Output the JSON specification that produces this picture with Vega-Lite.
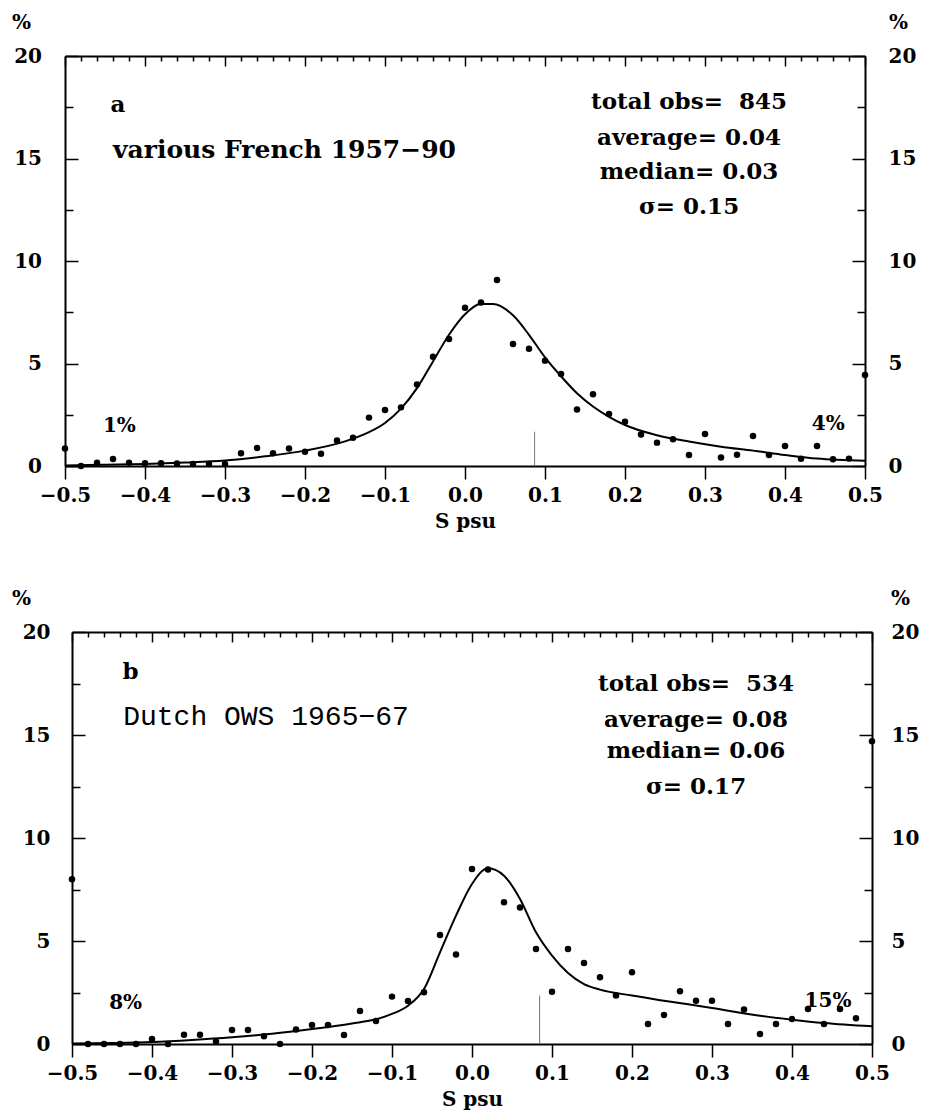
{
  "$schema": "https://vega.github.io/schema/vega-lite/v6.json",
  "background": "white",
  "padding": {"left": 11, "top": 12, "right": 2, "bottom": 5},
  "center": true,
  "spacing": 57,
  "config": {
    "view": {"stroke": null},
    "font": "DejaVu Serif",
    "axis": {
      "labelFont": "DejaVu Serif", "labelFontWeight": "bold", "labelFontSize": 20, "labelColor": "black",
      "titleFont": "DejaVu Serif", "titleFontWeight": "bold", "titleFontSize": 20, "titleColor": "black",
      "domainColor": "black", "domainWidth": 2, "tickColor": "black", "tickWidth": 1.5,
      "grid": false, "labelFlush": false, "labelOverlap": false
    }
  },
  "datasets": {
    "pointsA": [
      {"s": -0.5, "pct": 0.85}, {"s": -0.48, "pct": 0}, {"s": -0.46, "pct": 0.16}, {"s": -0.44, "pct": 0.34},
      {"s": -0.42, "pct": 0.16}, {"s": -0.4, "pct": 0.13}, {"s": -0.38, "pct": 0.13}, {"s": -0.36, "pct": 0.12},
      {"s": -0.34, "pct": 0.1}, {"s": -0.32, "pct": 0.1}, {"s": -0.3, "pct": 0.1}, {"s": -0.28, "pct": 0.62},
      {"s": -0.26, "pct": 0.88}, {"s": -0.24, "pct": 0.62}, {"s": -0.22, "pct": 0.85}, {"s": -0.2, "pct": 0.7},
      {"s": -0.18, "pct": 0.6}, {"s": -0.16, "pct": 1.24}, {"s": -0.14, "pct": 1.38}, {"s": -0.12, "pct": 2.36},
      {"s": -0.1, "pct": 2.73}, {"s": -0.08, "pct": 2.86}, {"s": -0.06, "pct": 3.98}, {"s": -0.04, "pct": 5.33},
      {"s": -0.02, "pct": 6.2}, {"s": 0, "pct": 7.72}, {"s": 0.02, "pct": 7.97}, {"s": 0.04, "pct": 9.07},
      {"s": 0.06, "pct": 5.95}, {"s": 0.08, "pct": 5.72}, {"s": 0.1, "pct": 5.14}, {"s": 0.12, "pct": 4.49},
      {"s": 0.14, "pct": 2.76}, {"s": 0.16, "pct": 3.5}, {"s": 0.18, "pct": 2.54}, {"s": 0.2, "pct": 2.16},
      {"s": 0.22, "pct": 1.54}, {"s": 0.24, "pct": 1.14}, {"s": 0.26, "pct": 1.3}, {"s": 0.28, "pct": 0.54},
      {"s": 0.3, "pct": 1.56}, {"s": 0.32, "pct": 0.42}, {"s": 0.34, "pct": 0.55}, {"s": 0.36, "pct": 1.46},
      {"s": 0.38, "pct": 0.54}, {"s": 0.4, "pct": 0.98}, {"s": 0.42, "pct": 0.35}, {"s": 0.44, "pct": 0.98},
      {"s": 0.46, "pct": 0.33}, {"s": 0.48, "pct": 0.36}, {"s": 0.5, "pct": 4.44}
    ],
    "curveA": [
      {"s": -0.5, "pct": 0.03}, {"s": -0.45, "pct": 0.06}, {"s": -0.4, "pct": 0.1}, {"s": -0.35, "pct": 0.17},
      {"s": -0.3, "pct": 0.27}, {"s": -0.25, "pct": 0.47}, {"s": -0.2, "pct": 0.75}, {"s": -0.15, "pct": 1.2},
      {"s": -0.12, "pct": 1.65}, {"s": -0.1, "pct": 2.1}, {"s": -0.08, "pct": 2.8}, {"s": -0.06, "pct": 3.8},
      {"s": -0.04, "pct": 5.1}, {"s": -0.02, "pct": 6.4}, {"s": 0, "pct": 7.4}, {"s": 0.02, "pct": 7.9},
      {"s": 0.035, "pct": 7.9}, {"s": 0.06, "pct": 7.35}, {"s": 0.08, "pct": 6.4}, {"s": 0.1, "pct": 5.3},
      {"s": 0.12, "pct": 4.38}, {"s": 0.14, "pct": 3.55}, {"s": 0.16, "pct": 2.9}, {"s": 0.18, "pct": 2.4},
      {"s": 0.2, "pct": 2.0}, {"s": 0.24, "pct": 1.5}, {"s": 0.28, "pct": 1.19}, {"s": 0.32, "pct": 0.94},
      {"s": 0.36, "pct": 0.75}, {"s": 0.4, "pct": 0.54}, {"s": 0.44, "pct": 0.36}, {"s": 0.5, "pct": 0.26}
    ],
    "pointsB": [
      {"s": -0.5, "pct": 8.0}, {"s": -0.48, "pct": 0}, {"s": -0.46, "pct": 0}, {"s": -0.44, "pct": 0},
      {"s": -0.42, "pct": 0}, {"s": -0.4, "pct": 0.24}, {"s": -0.38, "pct": 0}, {"s": -0.36, "pct": 0.45},
      {"s": -0.34, "pct": 0.45}, {"s": -0.32, "pct": 0.12}, {"s": -0.3, "pct": 0.68}, {"s": -0.28, "pct": 0.68},
      {"s": -0.26, "pct": 0.38}, {"s": -0.24, "pct": 0}, {"s": -0.22, "pct": 0.7}, {"s": -0.2, "pct": 0.92},
      {"s": -0.18, "pct": 0.92}, {"s": -0.16, "pct": 0.44}, {"s": -0.14, "pct": 1.6}, {"s": -0.12, "pct": 1.12},
      {"s": -0.1, "pct": 2.3}, {"s": -0.08, "pct": 2.09}, {"s": -0.06, "pct": 2.51}, {"s": -0.04, "pct": 5.29},
      {"s": -0.02, "pct": 4.35}, {"s": 0, "pct": 8.5}, {"s": 0.02, "pct": 8.47}, {"s": 0.04, "pct": 6.88},
      {"s": 0.06, "pct": 6.63}, {"s": 0.08, "pct": 4.61}, {"s": 0.1, "pct": 2.54}, {"s": 0.12, "pct": 4.61},
      {"s": 0.14, "pct": 3.93}, {"s": 0.16, "pct": 3.24}, {"s": 0.18, "pct": 2.35}, {"s": 0.2, "pct": 3.48},
      {"s": 0.22, "pct": 0.97}, {"s": 0.24, "pct": 1.41}, {"s": 0.26, "pct": 2.56}, {"s": 0.28, "pct": 2.1},
      {"s": 0.3, "pct": 2.1}, {"s": 0.32, "pct": 0.97}, {"s": 0.34, "pct": 1.67}, {"s": 0.36, "pct": 0.49},
      {"s": 0.38, "pct": 0.97}, {"s": 0.4, "pct": 1.21}, {"s": 0.42, "pct": 1.7}, {"s": 0.44, "pct": 0.97},
      {"s": 0.46, "pct": 1.7}, {"s": 0.48, "pct": 1.25}, {"s": 0.5, "pct": 14.7}
    ],
    "curveB": [
      {"s": -0.5, "pct": 0.02}, {"s": -0.45, "pct": 0.05}, {"s": -0.4, "pct": 0.1}, {"s": -0.35, "pct": 0.2},
      {"s": -0.3, "pct": 0.33}, {"s": -0.25, "pct": 0.5}, {"s": -0.2, "pct": 0.73}, {"s": -0.15, "pct": 1.0},
      {"s": -0.12, "pct": 1.2}, {"s": -0.1, "pct": 1.46}, {"s": -0.08, "pct": 1.86}, {"s": -0.06, "pct": 2.67},
      {"s": -0.04, "pct": 4.45}, {"s": -0.02, "pct": 6.23}, {"s": 0, "pct": 7.77}, {"s": 0.02, "pct": 8.53},
      {"s": 0.04, "pct": 8.17}, {"s": 0.06, "pct": 7.04}, {"s": 0.08, "pct": 5.42}, {"s": 0.1, "pct": 4.29},
      {"s": 0.12, "pct": 3.45}, {"s": 0.14, "pct": 2.91}, {"s": 0.16, "pct": 2.64}, {"s": 0.2, "pct": 2.35},
      {"s": 0.24, "pct": 2.1}, {"s": 0.3, "pct": 1.75}, {"s": 0.36, "pct": 1.37}, {"s": 0.4, "pct": 1.18},
      {"s": 0.44, "pct": 1.02}, {"s": 0.5, "pct": 0.86}
    ]
  },
  "vconcat": [
    {
      "width": 800,
      "height": 410,
      "layer": [
        {
          "data": {"values": [{"s": 0.087, "pct": 0, "pct2": 1.67}]},
          "mark": {"type": "rule", "color": "#777777", "strokeWidth": 1},
          "encoding": {
            "x": {"field": "s", "type": "quantitative", "scale": {"domain": [-0.5, 0.5], "nice": false, "zero": false},
              "axis": {"orient": "top", "title": null, "labels": false, "domain": false, "tickSize": -5,
                "values": [-0.48,-0.46,-0.44,-0.42,-0.38,-0.36,-0.34,-0.32,-0.28,-0.26,-0.24,-0.22,-0.18,-0.16,-0.14,-0.12,-0.08,-0.06,-0.04,-0.02,0.02,0.04,0.06,0.08,0.12,0.14,0.16,0.18,0.22,0.24,0.26,0.28,0.32,0.34,0.36,0.38,0.42,0.44,0.46,0.48]}},
            "y": {"field": "pct", "type": "quantitative", "scale": {"domain": [0, 20], "nice": false},
              "axis": {"orient": "left", "title": null, "labels": false, "domain": false, "tickSize": -8, "values": [2.5, 7.5, 12.5, 17.5]}},
            "y2": {"field": "pct2"}
          }
        },
        {
          "data": {"name": "curveA"},
          "mark": {"type": "line", "color": "black", "strokeWidth": 2, "interpolate": "monotone"},
          "encoding": {
            "x": {"field": "s", "type": "quantitative", "scale": {"domain": [-0.5, 0.5], "nice": false, "zero": false},
              "axis": {"orient": "top", "title": null, "labels": false, "tickSize": -10,
                "values": [-0.5,-0.4,-0.3,-0.2,-0.1,0,0.1,0.2,0.3,0.4,0.5]}},
            "y": {"field": "pct", "type": "quantitative", "scale": {"domain": [0, 20], "nice": false},
              "axis": {"orient": "right", "values": [0, 5, 10, 15, 20], "labelAlign": "left", "labelBaseline": "middle",
                "tickSize": -13, "labelPadding": 36, "minExtent": 62,
                "title": "%", "titleAngle": 0, "titleX": 33, "titleY": -34, "titleAlign": "center", "titleBaseline": "middle"}}
          }
        },
        {
          "data": {"name": "pointsA"},
          "mark": {"type": "circle", "color": "black", "opacity": 1, "size": 42},
          "encoding": {
            "x": {"field": "s", "type": "quantitative", "scale": {"domain": [-0.5, 0.5], "nice": false, "zero": false},
              "axis": {"orient": "bottom", "values": [-0.5,-0.4,-0.3,-0.2,-0.1,0,0.1,0.2,0.3,0.4,0.5], "format": ".1f",
                "tickSize": 13, "labelPadding": 6, "title": "S psu", "titleY": 55, "titleBaseline": "middle"}},
            "y": {"field": "pct", "type": "quantitative", "scale": {"domain": [0, 20], "nice": false},
              "axis": {"orient": "left", "values": [0, 5, 10, 15, 20], "labelAlign": "right", "labelBaseline": "middle",
                "tickSize": -13, "labelPadding": 36.5,
                "title": "%", "titleAngle": 0, "titleX": -44, "titleY": -34, "titleAlign": "center", "titleBaseline": "middle"}}
          }
        },
        {
          "data": {"values": [{"s": -0.443, "pct": 17.6, "t": "a"}]},
          "mark": {"type": "text", "align": "left", "baseline": "middle", "font": "DejaVu Serif", "fontWeight": "bold", "fontSize": 23, "color": "black"},
          "encoding": {
            "x": {"field": "s", "type": "quantitative", "scale": {"domain": [-0.5, 0.5], "nice": false, "zero": false}, "axis": null},
            "y": {"field": "pct", "type": "quantitative", "scale": {"domain": [0, 20], "nice": false},
              "axis": {"orient": "right", "title": null, "labels": false, "domain": false, "tickSize": -8, "values": [2.5, 7.5, 12.5, 17.5]}},
            "text": {"field": "t"}
          }
        },
        {
          "data": {"values": [{"s": -0.44, "pct": 15.4, "t": "various French 1957−90"}]},
          "mark": {"type": "text", "align": "left", "baseline": "middle", "font": "DejaVu Serif", "fontWeight": "bold", "fontSize": 25, "color": "black"},
          "encoding": {
            "x": {"field": "s", "type": "quantitative", "scale": {"domain": [-0.5, 0.5], "nice": false, "zero": false}, "axis": null},
            "y": {"field": "pct", "type": "quantitative", "scale": {"domain": [0, 20], "nice": false}, "axis": null},
            "text": {"field": "t"}
          }
        },
        {
          "data": {"values": [
            {"s": 0.28, "pct": 17.75, "t": "total obs=\u00a0 845"},
            {"s": 0.28, "pct": 16.0, "t": "average= 0.04"},
            {"s": 0.28, "pct": 14.34, "t": "median= 0.03"},
            {"s": 0.28, "pct": 12.63, "t": "σ= 0.15"}
          ]},
          "mark": {"type": "text", "align": "center", "baseline": "middle", "font": "DejaVu Serif", "fontWeight": "bold", "fontSize": 23, "color": "black"},
          "encoding": {
            "x": {"field": "s", "type": "quantitative", "scale": {"domain": [-0.5, 0.5], "nice": false, "zero": false}, "axis": null},
            "y": {"field": "pct", "type": "quantitative", "scale": {"domain": [0, 20], "nice": false}, "axis": null},
            "text": {"field": "t"}
          }
        },
        {
          "data": {"values": [
            {"s": -0.432, "pct": 1.95, "t": "1%"},
            {"s": 0.454, "pct": 2.05, "t": "4%"}
          ]},
          "mark": {"type": "text", "align": "center", "baseline": "middle", "font": "DejaVu Serif", "fontWeight": "bold", "fontSize": 20, "color": "black"},
          "encoding": {
            "x": {"field": "s", "type": "quantitative", "scale": {"domain": [-0.5, 0.5], "nice": false, "zero": false}, "axis": null},
            "y": {"field": "pct", "type": "quantitative", "scale": {"domain": [0, 20], "nice": false}, "axis": null},
            "text": {"field": "t"}
          }
        }
      ],
      "resolve": {"scale": {"x": "independent", "y": "independent"}}
    },
    {
      "width": 800,
      "height": 412,
      "layer": [
        {
          "data": {"values": [{"s": 0.0845, "pct": 0, "pct2": 2.35}]},
          "mark": {"type": "rule", "color": "#777777", "strokeWidth": 1},
          "encoding": {
            "x": {"field": "s", "type": "quantitative", "scale": {"domain": [-0.5, 0.5], "nice": false, "zero": false},
              "axis": {"orient": "top", "title": null, "labels": false, "domain": false, "tickSize": -5,
                "values": [-0.48,-0.46,-0.44,-0.42,-0.38,-0.36,-0.34,-0.32,-0.28,-0.26,-0.24,-0.22,-0.18,-0.16,-0.14,-0.12,-0.08,-0.06,-0.04,-0.02,0.02,0.04,0.06,0.08,0.12,0.14,0.16,0.18,0.22,0.24,0.26,0.28,0.32,0.34,0.36,0.38,0.42,0.44,0.46,0.48]}},
            "y": {"field": "pct", "type": "quantitative", "scale": {"domain": [0, 20], "nice": false},
              "axis": {"orient": "left", "title": null, "labels": false, "domain": false, "tickSize": -8, "values": [2.5, 7.5, 12.5, 17.5]}},
            "y2": {"field": "pct2"}
          }
        },
        {
          "data": {"name": "curveB"},
          "mark": {"type": "line", "color": "black", "strokeWidth": 2, "interpolate": "monotone"},
          "encoding": {
            "x": {"field": "s", "type": "quantitative", "scale": {"domain": [-0.5, 0.5], "nice": false, "zero": false},
              "axis": {"orient": "top", "title": null, "labels": false, "tickSize": -10,
                "values": [-0.5,-0.4,-0.3,-0.2,-0.1,0,0.1,0.2,0.3,0.4,0.5]}},
            "y": {"field": "pct", "type": "quantitative", "scale": {"domain": [0, 20], "nice": false},
              "axis": {"orient": "right", "values": [0, 5, 10, 15, 20], "labelAlign": "left", "labelBaseline": "middle",
                "tickSize": -13, "labelPadding": 32, "minExtent": 48, "maxExtent": 48,
                "title": "%", "titleAngle": 0, "titleX": 28, "titleY": -34, "titleAlign": "center", "titleBaseline": "middle"}}
          }
        },
        {
          "data": {"name": "pointsB"},
          "mark": {"type": "circle", "color": "black", "opacity": 1, "size": 42},
          "encoding": {
            "x": {"field": "s", "type": "quantitative", "scale": {"domain": [-0.5, 0.5], "nice": false, "zero": false},
              "axis": {"orient": "bottom", "values": [-0.5,-0.4,-0.3,-0.2,-0.1,0,0.1,0.2,0.3,0.4,0.5], "format": ".1f",
                "tickSize": 13, "labelPadding": 6, "title": "S psu", "titleY": 55, "titleBaseline": "middle"}},
            "y": {"field": "pct", "type": "quantitative", "scale": {"domain": [0, 20], "nice": false},
              "axis": {"orient": "left", "values": [0, 5, 10, 15, 20], "labelAlign": "right", "labelBaseline": "middle",
                "tickSize": -13, "labelPadding": 35,
                "title": "%", "titleAngle": 0, "titleX": -51, "titleY": -34, "titleAlign": "center", "titleBaseline": "middle"}}
          }
        },
        {
          "data": {"values": [{"s": -0.437, "pct": 18.06, "t": "b"}]},
          "mark": {"type": "text", "align": "left", "baseline": "middle", "font": "DejaVu Serif", "fontWeight": "bold", "fontSize": 23, "color": "black"},
          "encoding": {
            "x": {"field": "s", "type": "quantitative", "scale": {"domain": [-0.5, 0.5], "nice": false, "zero": false}, "axis": null},
            "y": {"field": "pct", "type": "quantitative", "scale": {"domain": [0, 20], "nice": false},
              "axis": {"orient": "right", "title": null, "labels": false, "domain": false, "tickSize": -8, "values": [2.5, 7.5, 12.5, 17.5]}},
            "text": {"field": "t"}
          }
        },
        {
          "data": {"values": [{"s": -0.436, "pct": 15.87, "t": "Dutch OWS 1965−67"}]},
          "mark": {"type": "text", "align": "left", "baseline": "middle", "font": "Liberation Mono", "fontSize": 28, "color": "black"},
          "encoding": {
            "x": {"field": "s", "type": "quantitative", "scale": {"domain": [-0.5, 0.5], "nice": false, "zero": false}, "axis": null},
            "y": {"field": "pct", "type": "quantitative", "scale": {"domain": [0, 20], "nice": false}, "axis": null},
            "text": {"field": "t"}
          }
        },
        {
          "data": {"values": [
            {"s": 0.28, "pct": 17.48, "t": "total obs=\u00a0 534"},
            {"s": 0.28, "pct": 15.73, "t": "average= 0.08"},
            {"s": 0.28, "pct": 14.24, "t": "median= 0.06"},
            {"s": 0.28, "pct": 12.48, "t": "σ= 0.17"}
          ]},
          "mark": {"type": "text", "align": "center", "baseline": "middle", "font": "DejaVu Serif", "fontWeight": "bold", "fontSize": 23, "color": "black"},
          "encoding": {
            "x": {"field": "s", "type": "quantitative", "scale": {"domain": [-0.5, 0.5], "nice": false, "zero": false}, "axis": null},
            "y": {"field": "pct", "type": "quantitative", "scale": {"domain": [0, 20], "nice": false}, "axis": null},
            "text": {"field": "t"}
          }
        },
        {
          "data": {"values": [
            {"s": -0.433, "pct": 1.99, "t": "8%"},
            {"s": 0.445, "pct": 2.09, "t": "15%"}
          ]},
          "mark": {"type": "text", "align": "center", "baseline": "middle", "font": "DejaVu Serif", "fontWeight": "bold", "fontSize": 20, "color": "black"},
          "encoding": {
            "x": {"field": "s", "type": "quantitative", "scale": {"domain": [-0.5, 0.5], "nice": false, "zero": false}, "axis": null},
            "y": {"field": "pct", "type": "quantitative", "scale": {"domain": [0, 20], "nice": false}, "axis": null},
            "text": {"field": "t"}
          }
        }
      ],
      "resolve": {"scale": {"x": "independent", "y": "independent"}}
    }
  ]
}
